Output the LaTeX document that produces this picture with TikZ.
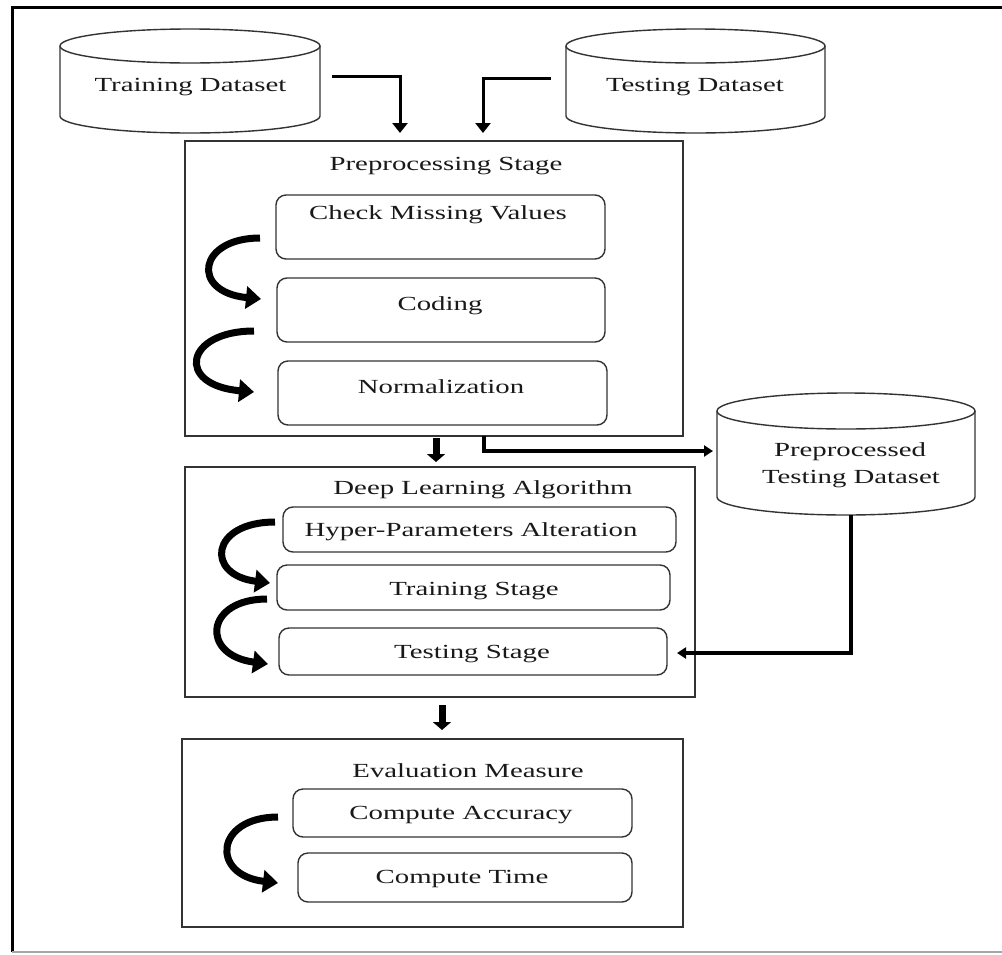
\documentclass[tikz,border=0pt]{standalone}
\usepackage{fontspec}
\setmainfont{Liberation Serif}
\usepackage{graphicx}
\usetikzlibrary{arrows.meta}
\newcommand{\wtxt}[1]{\scalebox{1.44}[1]{#1}}
\newcommand{\dbcyl}[5]{% cx, rx, ytop, ybot, ry
  \draw[dbline] ({#1-#2},#3) -- ({#1-#2},#4)
    .. controls ({#1-#2},{#4+0.5523*#5}) and ({#1-0.5523*#2},{#4+#5}) .. (#1,{#4+#5})
    .. controls ({#1+0.5523*#2},{#4+#5}) and ({#1+#2},{#4+0.5523*#5}) .. ({#1+#2},#4)
    -- ({#1+#2},#3);
  \draw[dbline] (#1,#3) ellipse [x radius=#2, y radius=#5];
}
\begin{document}
\begin{tikzpicture}[x=1pt,y=-1pt,
  every node/.style={inner sep=0pt, outer sep=0pt},
  lbl/.style={font=\fontsize{20}{27}\selectfont, anchor=base, text=black!90},
  stagebox/.style={draw=black!80, line width=1.5pt},
  stepbox/.style={draw=black!80, line width=1.4pt, rounded corners=10pt},
  dbline/.style={draw=black!80, line width=1.4pt},
  conn/.style={line width=3pt, -{Triangle[length=10pt,width=15pt]}},
  conntwo/.style={line width=4pt, -{Triangle[length=9pt,width=11pt]}},
  fatarrow/.style={line width=7pt, -{Triangle[length=8pt,width=18pt]}},
  curvearrow/.style={line width=7pt, line cap=butt, -{Triangle[length=15pt,width=22pt]}}
]
\useasboundingbox (0,0) rectangle (1002,954);
% outer frame
\draw[line width=3pt] (1002,7) -- (12,7) -- (12,952);
\draw[black!35, line width=2pt] (12,952) -- (1002,952);

% cylinders
\dbcyl{190}{130}{46}{116}{17}
\dbcyl{695.5}{129.5}{46}{116}{17}
\dbcyl{846}{129}{411}{497}{18}
\node[lbl] (train) at (190.5,91) {\wtxt{Training Dataset}};
\node[lbl] (test) at (695,91) {\wtxt{Testing Dataset}};
\node[lbl] (ppdA) at (850,456) {\wtxt{Preprocessed}};
\node[lbl] (ppdB) at (851,483) {\wtxt{Testing Dataset}};

% stage boxes
\node[stagebox, minimum width=498pt, minimum height=295pt] (pre) at (434,288.5) {};
\node[stagebox, minimum width=510pt, minimum height=230pt] (dl) at (440,582) {};
\node[stagebox, minimum width=501pt, minimum height=188pt] (ev) at (432.5,833) {};
\node[lbl] (preT) at (446,170) {\wtxt{Preprocessing Stage}};
\node[lbl] (dlT) at (483,494) {\wtxt{Deep Learning Algorithm}};
\node[lbl] (evT) at (468,777) {\wtxt{Evaluation Measure}};

% step boxes
\node[stepbox, minimum width=329pt, minimum height=64pt] (cmv) at (440.5,227) {};
\node[stepbox, minimum width=328pt, minimum height=64pt] (cod) at (441,310) {};
\node[stepbox, minimum width=329pt, minimum height=64pt] (nor) at (442.5,393) {};
\node[stepbox, minimum width=393pt, minimum height=45pt] (hyp) at (479.5,529.5) {};
\node[stepbox, minimum width=393pt, minimum height=45pt] (trn) at (473.5,587.5) {};
\node[stepbox, minimum width=388pt, minimum height=47pt] (tst) at (473,651.5) {};
\node[stepbox, minimum width=339pt, minimum height=48pt] (acc) at (462.5,813) {};
\node[stepbox, minimum width=334pt, minimum height=49pt] (tim) at (465,877.5) {};
\node[lbl] (cmvT) at (438,219) {\wtxt{Check Missing Values}};
\node[lbl] (codT) at (440,310) {\wtxt{Coding}};
\node[lbl] (norT) at (441,393) {\wtxt{Normalization}};
\node[lbl] (hypT) at (471,536) {\wtxt{Hyper-Parameters Alteration}};
\node[lbl] (trnT) at (474,595) {\wtxt{Training Stage}};
\node[lbl] (tstT) at (472,658) {\wtxt{Testing Stage}};
\node[lbl] (accT) at (461,819) {\wtxt{Compute Accuracy}};
\node[lbl] (timT) at (462,883) {\wtxt{Compute Time}};

% connector end points
\coordinate (a1s) at (332,76);
\coordinate (a1e) at (400,133);
\coordinate (a2s) at (551,78);
\coordinate (a2e) at (483,133);
\coordinate (c1s) at (484,436);
\coordinate (c1e) at (713,451);
\coordinate (c2s) at (851,515);
\coordinate (c2e) at (677,653);

\draw[conn] (a1s) -| (a1e);
\draw[conn] (a2s) -| (a2e);
\draw[conntwo] (c1s) |- (c1e);
\draw[conntwo] (c2s) |- (c2e);

\draw[fatarrow, shorten <=2pt, shorten >=5pt] ([xshift=2pt]pre.south) -- ([xshift=2pt]pre.south |- dl.north);
\draw[fatarrow, shorten <=8pt, shorten >=9pt] ([xshift=2pt]dl.south) -- ([xshift=2pt]dl.south |- ev.north);

% curved arrows
\draw[curvearrow] (260,238) .. controls (198,238) and (190,292) .. (261,299);
\draw[curvearrow] (254,331) .. controls (185,331) and (175,385) .. (254,392);
\draw[curvearrow] (275,522) .. controls (210,522) and (205,575) .. (270,583);
\draw[curvearrow] (267,599) .. controls (205,599) and (200,655) .. (268,664);
\draw[curvearrow] (278,817) .. controls (215,817) and (210,875) .. (278,883);
\end{tikzpicture}
\end{document}
